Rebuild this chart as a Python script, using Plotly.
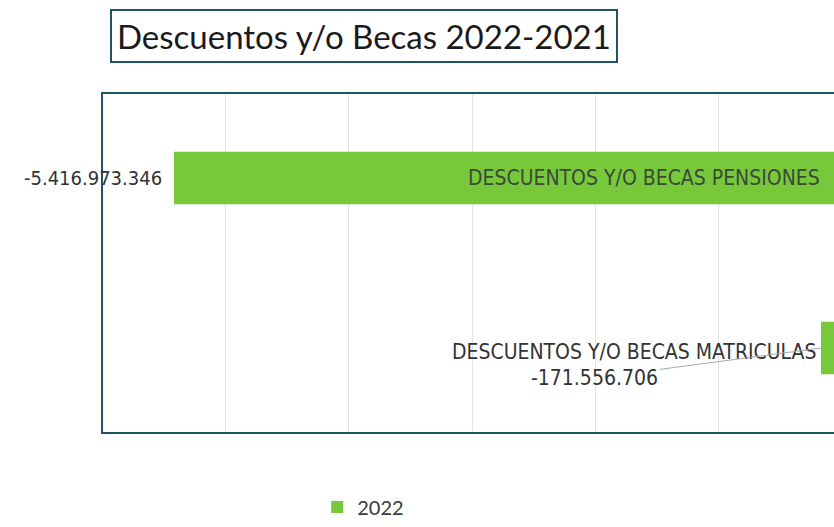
import plotly.graph_objects as go

# ---- data ----
categories = ["DESCUENTOS Y/O BECAS MATRICULAS", "DESCUENTOS Y/O BECAS PENSIONES"]
values_2022 = [-171556706, -5416973346]
series_name = "2022"
title_text = "Descuentos y/o Becas 2022-2021"


def fmt(v):
    s = f"{abs(v):,}".replace(",", ".")
    return ("-" if v < 0 else "") + s


GREEN = "#78c83c"
BORDER = "#1f5464"
LABEL_FONT = "Liberation Sans Narrow, DejaVu Sans Condensed, Lato, sans-serif"

fig = go.Figure()
fig.add_trace(go.Bar(
    y=categories, x=values_2022, orientation="h", name=series_name,
    marker=dict(color=GREEN, line=dict(width=0)), width=0.31,
    showlegend=True, hoverinfo="skip",
))

# PENSIONES: value left of bar, category inside bar near right edge
fig.add_annotation(
    x=values_2022[1], y=categories[1], xref="x", yref="y",
    text=fmt(values_2022[1]), showarrow=False, xanchor="right", xshift=-10,
    font=dict(family=LABEL_FONT, size=20, color="#333333"),
)
fig.add_annotation(
    x=1, y=categories[1], xref="paper", yref="y",
    text=categories[1], showarrow=False, xanchor="right", xshift=-12,
    font=dict(family=LABEL_FONT, size=21, color="#3a4a35"),
)
# MATRICULAS: category and value left of bar, with leader line
fig.add_annotation(
    x=values_2022[0], y=categories[0], xref="x", yref="y",
    text=categories[0], showarrow=False, xanchor="right", xshift=-2, yshift=-4,
    font=dict(family=LABEL_FONT, size=21, color="#333333"),
)
fig.add_annotation(
    x=values_2022[0], y=categories[0], xref="x", yref="y",
    text=fmt(values_2022[0]), showarrow=True, arrowhead=0, arrowwidth=1,
    arrowcolor="#a8a8a8", ax=-226, ay=30, standoff=0,
    font=dict(family=LABEL_FONT, size=21, color="#333333"),
)

fig.update_layout(
    width=834, height=527,
    margin=dict(l=102, r=0, t=93, b=88),
    paper_bgcolor="white", plot_bgcolor="white",
    xaxis=dict(range=[-6.0e9, -0.066e9], dtick=1e9, showgrid=True,
               gridcolor="#e4e4e4", gridwidth=1, showticklabels=False,
               zeroline=False, showline=False, ticks=""),
    yaxis=dict(showticklabels=False, showgrid=False, zeroline=False,
               showline=False, ticks="", range=[-0.5, 1.5]),
    showlegend=True,
    legend=dict(orientation="h", x=0.294, xanchor="left", y=-0.218, yanchor="middle",
                font=dict(family="Lato, sans-serif", size=20, color="#3a3a3a"),
                itemwidth=30, bgcolor="rgba(0,0,0,0)"),
    shapes=[dict(type="rect", xref="paper", yref="paper", x0=0, x1=1.05, y0=0, y1=1,
                 line=dict(color=BORDER, width=2), layer="above")],
)

# title in a box
fig.add_annotation(
    x=(110 - 102) / 732, y=1 + (93 - 8) / 346, xref="paper", yref="paper",
    xanchor="left", yanchor="top", text=title_text, showarrow=False,
    font=dict(family="Lato, sans-serif", size=33, color="#1a1a1a"),
    bordercolor=BORDER, borderwidth=2, borderpad=5, bgcolor="white",
)

fig.write_html(
    "out.html",
    config={"displayModeBar": False, "staticPlot": True},
    post_script="document.body.style.margin='0';document.body.style.overflow='hidden';",
)
